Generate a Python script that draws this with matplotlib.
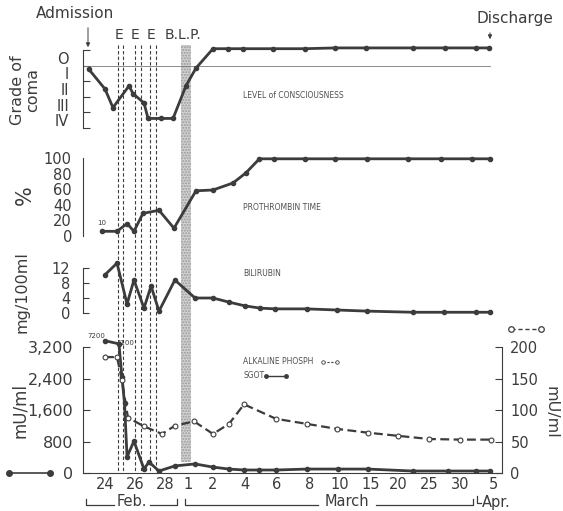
import matplotlib
matplotlib.use("Agg")
import matplotlib.pyplot as plt
import numpy as np
from matplotlib.lines import Line2D

W, H = 563, 511
INK = "#3c3c3c"

# x values are days counted from 24 February
tick_days = [0, 2, 4, 5, 6, 8, 10, 12, 14, 19, 24, 29, 34, 40]
tick_labels = ["24", "26", "28", "1", "2", "4", "6", "8", "10", "15", "20", "25", "30", "5"]

coma_days = [-1.1, 0, 0.53, 1.6, 1.87, 2.6, 2.87, 3.73, 4.35, 4.91, 5.32, 6, 6.94, 7.88,
             9.75, 11.7, 13.7, 18.2, 26.4, 31.6, 36.9, 39.3]
coma_grade = [0.7, 2.0, 3.2, 1.8, 2.3, 2.9, 3.9, 3.9, 3.9, 1.8, 0.65, -0.6, -0.6, -0.6,
              -0.6, -0.6, -0.65, -0.65, -0.65, -0.65, -0.65, -0.65]
coma_labels = ["O", "I", "II", "III", "IV"]

pt_days = [-0.2, 0.8, 1.47, 1.93, 2.53, 3.6, 4.39, 5.32, 6, 7.25, 8.06, 8.9, 9.8, 11.7,
           13.7, 18.4, 25.6, 30.9, 36.2, 39.5]
pt_pct = [6, 6, 16, 6, 29, 33, 10, 58, 59, 68, 81, 99, 99, 99, 99, 99, 99, 99, 99, 99]

bili_days = [0, 0.8, 1.47, 1.93, 2.6, 3.07, 3.6, 4.43, 5.28, 6, 7, 8, 8.94, 9.88, 11.8,
             13.8, 18.4, 26.4, 31.4, 36.9, 39.5]
bili = [10.2, 13.3, 2.4, 8.8, 1.3, 7.2, 0.5, 8.8, 4.0, 4.0, 2.9, 1.9, 1.3, 1.1, 1.1,
        0.8, 0.5, 0.2, 0.2, 0.2, 0.2]

# first two SGOT points are off scale (7200, 4100) and drawn at the top
sgot_days = [0, 0.93, 1.13, 1.3, 1.47, 1.93, 2.6, 2.93, 3.6, 4.43, 5.28, 6, 7, 7.94, 8.88,
             9.94, 11.8, 13.9, 18.5, 26.4, 32.0, 36.9, 39.4]
sgot = [3360, 3280, 2440, 1780, 410, 810, 100, 280, 50, 180, 230, 150, 100, 76, 76, 76,
        100, 100, 100, 50, 50, 50, 50]

alk_days = [0, 0.8, 1.13, 1.53, 2.6, 3.8, 4.43, 5.24, 6, 7, 7.94, 9.94, 11.8, 13.8, 18.5,
            24, 29, 34, 39.7]
alk = [184, 184, 147, 88, 74, 62, 75, 82, 62, 78, 109, 86, 78, 70, 64, 59, 54, 53, 53]

e_days = [0.85, 1.2, 2.0, 2.4, 3.0, 3.4]
blp_days = (4.7, 5.1)

# piecewise axis: the printed chart squeezes the later weeks
anchor_days = [-10, 0, 2, 4, 5, 6, 8, 10, 12, 14, 19, 24, 29, 34, 40, 60]
anchor_pos = [-45, 105, 135, 165, 188, 213, 245, 277, 310, 340, 371, 398, 429, 460, 493, 603]


def fwd(d):
    return np.interp(d, anchor_days, anchor_pos)


def inv(p):
    return np.interp(p, anchor_pos, anchor_days)


X0, X1 = 83, 502

plt.rcParams["font.family"] = "DejaVu Sans"
fig = plt.figure(figsize=(W / 100, H / 100), dpi=100)


def panel(top, bottom):
    ax = fig.add_axes([X0 / W, 1 - bottom / H, (X1 - X0) / W, (bottom - top) / H])
    ax.set_xscale("function", functions=(fwd, inv))
    ax.set_xlim(inv(X0), inv(X1))
    ax.patch.set_alpha(0)
    for s in ("top", "right", "bottom"):
        ax.spines[s].set_visible(False)
    ax.spines["left"].set_color(INK)
    ax.tick_params(axis="x", which="both", bottom=False, labelbottom=False)
    ax.tick_params(axis="y", which="both", direction="in", color=INK, labelcolor=INK,
                   labelsize=11.5, pad=7)
    return ax


# overlay for the E lines and the B.L.P. band
ov = fig.add_axes([X0 / W, 0, (X1 - X0) / W, 1])
ov.set_xscale("function", functions=(fwd, inv))
ov.set_xlim(inv(X0), inv(X1))
ov.set_ylim(H, 0)
ov.axis("off")
ov.vlines(e_days, 45, 473, colors=INK, linestyles=(0, (3, 2)), lw=0.8)
ov.fill_betweenx([45, 462], *blp_days, facecolor="#d2d2d2", edgecolor="#9a9a9a",
                 hatch="......", lw=0)
for d in (0.93, 2.0, 3.1):
    ov.text(d, 35, "E", ha="center", va="center", fontsize=10, color=INK)
ov.text(np.mean(blp_days) - 0.1, 35, "B.L.P.", ha="center", va="center", fontsize=10, color=INK)

# level of consciousness
ax1 = panel(40, 130)
ax1.set_ylim(4.645, -1.161)
ax1.spines["left"].set_bounds(-0.5, 4.5)
ax1.set_yticks([-0.5, 0.5, 1.5, 2.5, 3.5, 4.5], labels=[""] * 6)
ax1.set_yticks(range(5), labels=coma_labels, minor=True)
ax1.tick_params(axis="y", which="major", length=5)
ax1.tick_params(axis="y", which="minor", length=0, pad=10, labelsize=10.5)
ax1.axhline(0.5, 0, (490 - X0) / (X1 - X0), color="#777777", lw=0.6)
ax1.plot(coma_days, coma_grade, color=INK, lw=2, marker="o", ms=3)

# prothrombin time
ax2 = panel(150, 240)
ax2.set_ylim(-5.13, 110.3)
ax2.spines["left"].set_bounds(0, 100)
ax2.set_yticks(range(0, 101, 20))
ax2.set_yticks([0, 100], minor=True)
ax2.tick_params(axis="y", which="major", length=0, pad=8, labelsize=10.5)
ax2.tick_params(axis="y", which="minor", length=5)
ax2.plot(pt_days, pt_pct, color=INK, lw=2, marker="o", ms=3)
ax2.text(pt_days[0], 14, "10", fontsize=5, ha="center", color=INK)

# bilirubin
ax3 = panel(255, 318)
ax3.set_ylim(-1.333, 15.47)
ax3.spines["left"].set_bounds(0, 12)
ax3.set_yticks([0, 4, 8, 12])
ax3.tick_params(axis="y", length=4, pad=9, labelsize=10.5)
ax3.plot(bili_days, bili, color=INK, lw=2, marker="o", ms=3)

# enzymes
ax4 = panel(330, 473)
ax4.set_ylim(0, 3632)
ax4.spines["left"].set_bounds(0, 3200)
ax4.spines["bottom"].set_visible(True)
ax4.spines["bottom"].set_color(INK)
ax4.set_yticks([0, 800, 1600, 2400, 3200], labels=["0", "800", "1,600", "2,400", "3,200"])
ax4.tick_params(axis="y", length=5)
ax4.set_xticks(tick_days, labels=tick_labels)
ax4.set_xticks([], minor=True)
ax4.tick_params(axis="x", which="major", bottom=True, labelbottom=True, length=0, pad=3,
                labelsize=10.5, labelcolor=INK)
ax4.plot(sgot_days, sgot, color=INK, lw=2, marker="o", ms=3, zorder=3)
ax4.text(-0.6, 3420, "7200", fontsize=5, ha="center", color=INK)
ax4.text(1.4, 3250, "4100", fontsize=5, ha="center", color=INK)

ax4r = ax4.twinx()
ax4r.set_ylim(0, 3632 / 16)
for s in ("top", "left", "bottom"):
    ax4r.spines[s].set_visible(False)
ax4r.spines["right"].set_bounds(0, 200)
ax4r.spines["right"].set_color(INK)
ax4r.set_yticks(range(0, 201, 50))
ax4r.tick_params(axis="y", direction="in", length=5, labelsize=10.5, color=INK,
                 labelcolor=INK, pad=6)
ax4r.plot(alk_days, alk, color=INK, lw=1.6, ls=(0, (4, 2)), marker="o", ms=3.5,
          mfc="white", mec=INK, mew=0.8)

# text, arrows and brackets in pixel space
deco = fig.add_axes([0, 0, 1, 1])
deco.set_xlim(0, W)
deco.set_ylim(H, 0)
deco.axis("off")
deco.text(75, 14, "Admission", ha="center", va="center", fontsize=11, color=INK)
deco.annotate("", xy=(88, 50), xytext=(88, 25),
              arrowprops=dict(arrowstyle="-|>", lw=0.7, color=INK, mutation_scale=6))
deco.text(515, 19, "Discharge", ha="center", va="center", fontsize=11, color=INK)
deco.annotate("", xy=(490, 42), xytext=(490, 30),
              arrowprops=dict(arrowstyle="-|>", lw=0.7, color=INK, mutation_scale=6))

small = dict(fontsize=5.5, color="#505050", va="center", ha="left")
deco.text(243, 95, "LEVEL of CONSCIOUSNESS", **small)
deco.text(243, 208, "PROTHROMBIN TIME", **small)
deco.text(243, 274, "BILIRUBIN", **small)
deco.text(243, 362, "ALKALINE PHOSPH", **small)
deco.text(243, 376, "SGOT", **small)
deco.add_line(Line2D([323, 337], [362, 362], color=INK, lw=0.8, ls=(0, (2, 1.5)),
                     marker="o", ms=2.5, mfc="white", mec=INK, mew=0.6))
deco.add_line(Line2D([266, 286], [376, 376], color=INK, lw=1, marker="o", ms=2.5))

deco.add_line(Line2D([9, 50], [473, 473], color=INK, lw=1.2, marker="o", ms=4))
deco.add_line(Line2D([511, 541], [329, 329], color=INK, lw=1, ls=(0, (3, 2)),
                     marker="o", ms=4, mfc="white", mec=INK, mew=0.9))

lab = dict(color=INK, ha="center", va="center", rotation=90)
deco.text(25, 90, "Grade of\ncoma", fontsize=11.5, linespacing=1.0, **lab)
deco.text(25, 195, "%", fontsize=15, **lab)
deco.text(22, 292, "mg/100ml", fontsize=11.5, **lab)
deco.text(20, 410, "mU/ml", fontsize=12, **lab)
deco.text(551, 412, "mU/ml", fontsize=11.5, color=INK, ha="center", va="center", rotation=270)

br = dict(color=INK, lw=0.9)
BY = 505
deco.plot([86, 86, 114], [BY - 6, BY, BY], **br)
deco.plot([150, 177, 177], [BY, BY, BY - 6], **br)
deco.text(132, 502, "Feb.", fontsize=10.5, ha="center", va="center", color=INK)
deco.plot([185, 185, 318], [BY - 6, BY, BY], **br)
deco.plot([376, 473, 473], [BY, BY, BY - 6], **br)
deco.text(347, 502, "March", fontsize=10.5, ha="center", va="center", color=INK)
deco.plot([477, 477, 481], [BY - 9, BY - 2, BY - 2], **br)
deco.text(482, 502, "Apr.", fontsize=10.5, ha="left", va="center", color=INK)

fig.savefig("out.png", dpi=100, facecolor="white")
